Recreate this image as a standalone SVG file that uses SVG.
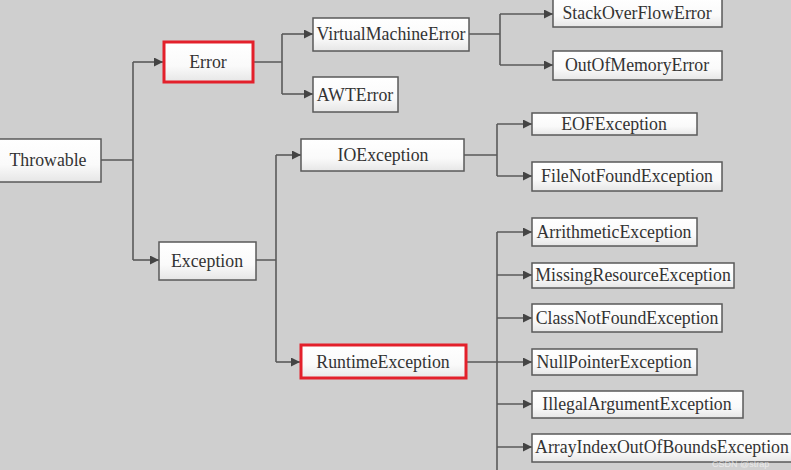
<svg xmlns="http://www.w3.org/2000/svg" width="791" height="470" viewBox="0 0 791 470">
<style>
.box{fill:url(#g);stroke:#5a5a5a;stroke-width:1.5}
.red{fill:url(#g);stroke:#e3202b;stroke-width:3}
.t{font-family:"Liberation Serif","Times New Roman",serif;font-size:17.8px;fill:#333;text-anchor:middle;dominant-baseline:central}
.c{fill:none;stroke:#5a5a5a;stroke-width:1.6}
.wm{font-family:"Liberation Sans",Arial,sans-serif;font-size:9px;fill:#fff;fill-opacity:0.6}
</style>
<defs>
<linearGradient id="g" x1="0" y1="0" x2="0" y2="1">
<stop offset="0" stop-color="#ffffff"/>
<stop offset="0.6" stop-color="#fafafa"/>
<stop offset="1" stop-color="#e6e6e6"/>
</linearGradient>
<marker id="a" viewBox="0 0 10 10" refX="10" refY="5" markerWidth="9" markerHeight="9" markerUnits="userSpaceOnUse" orient="auto">
<path d="M0,0 L10,5 L0,10 z" fill="#444"/>
</marker>
</defs>
<rect width="791" height="470" fill="#cfcfcf"/>
<g id="connectors">
<path class="c" d="M101,160 H133 M133,62 V260"/>
<path class="c" d="M133,62 H163" marker-end="url(#a)"/>
<path class="c" d="M133,260 H159" marker-end="url(#a)"/>
<path class="c" d="M253,62 H282 M282,34 V94"/>
<path class="c" d="M282,34 H313" marker-end="url(#a)"/>
<path class="c" d="M282,94 H313" marker-end="url(#a)"/>
<path class="c" d="M469,34 H500 M500,14 V65"/>
<path class="c" d="M500,14 H553" marker-end="url(#a)"/>
<path class="c" d="M500,65 H553" marker-end="url(#a)"/>
<path class="c" d="M256,260 H276 M276,155 V362"/>
<path class="c" d="M276,155 H301" marker-end="url(#a)"/>
<path class="c" d="M276,362 H300" marker-end="url(#a)"/>
<path class="c" d="M464,155 H497 M497,124 V176"/>
<path class="c" d="M497,124 H532" marker-end="url(#a)"/>
<path class="c" d="M497,176 H532" marker-end="url(#a)"/>
<path class="c" d="M466,362 H497 M497,232 V470"/>
<path class="c" d="M497,232 H532" marker-end="url(#a)"/>
<path class="c" d="M497,275 H532" marker-end="url(#a)"/>
<path class="c" d="M497,318 H532" marker-end="url(#a)"/>
<path class="c" d="M497,362 H532" marker-end="url(#a)"/>
<path class="c" d="M497,404 H532" marker-end="url(#a)"/>
<path class="c" d="M497,447 H532" marker-end="url(#a)"/>
</g>
<g id="throwable"><rect class="box" x="-2" y="139" width="103" height="43"/><text class="t" x="48" y="160">Throwable</text></g>
<g id="error"><rect class="red" x="164" y="42" width="89" height="40"/><text class="t" x="208" y="62">Error</text></g>
<g id="exception"><rect class="box" x="159" y="242" width="97" height="38"/><text class="t" x="207" y="261">Exception</text></g>
<g id="virtualmachineerror"><rect class="box" x="313" y="18" width="156" height="33"/><text class="t" x="391" y="34">VirtualMachineError</text></g>
<g id="awterror"><rect class="box" x="313" y="77" width="85" height="35"/><text class="t" x="355" y="95">AWTError</text></g>
<g id="stackoverflowerror"><rect class="box" x="553" y="-2" width="169" height="29"/><text class="t" x="637" y="13">StackOverFlowError</text></g>
<g id="outofmemoryerror"><rect class="box" x="553" y="51" width="169" height="29"/><text class="t" x="637" y="65">OutOfMemoryError</text></g>
<g id="ioexception"><rect class="box" x="301" y="139" width="163" height="32"/><text class="t" x="383" y="155">IOException</text></g>
<g id="eofexception"><rect class="box" x="532" y="113" width="165" height="22"/><text class="t" x="614" y="124">EOFException</text></g>
<g id="filenotfoundexception"><rect class="box" x="532" y="162" width="190" height="29"/><text class="t" x="627" y="176">FileNotFoundException</text></g>
<g id="runtimeexception"><rect class="red" x="301" y="345" width="165" height="33"/><text class="t" x="383" y="362">RuntimeException</text></g>
<g id="arithmeticexception"><rect class="box" x="532" y="218" width="165" height="28"/><text class="t" x="614" y="232">ArrithmeticException</text></g>
<g id="missingresourceexception"><rect class="box" x="532" y="263" width="202" height="25"/><text class="t" x="633" y="275">MissingResourceException</text></g>
<g id="classnotfoundexception"><rect class="box" x="532" y="304" width="190" height="28"/><text class="t" x="627" y="318">ClassNotFoundException</text></g>
<g id="nullpointerexception"><rect class="box" x="532" y="349" width="165" height="26"/><text class="t" x="614" y="362">NullPointerException</text></g>
<g id="illegalargumentexception"><rect class="box" x="532" y="391" width="211" height="27"/><text class="t" x="637" y="404">IllegalArgumentException</text></g>
<g id="arrayindexoutofboundsexception"><rect class="box" x="532" y="434" width="262" height="28"/><text class="t" x="662" y="447">ArrayIndexOutOfBoundsException</text></g>
<text class="wm" x="712" y="467">CSDN @strap</text>
</svg>
